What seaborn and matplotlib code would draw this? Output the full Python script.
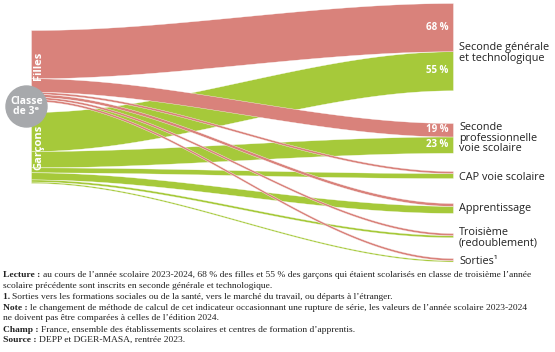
import numpy as np
import matplotlib.pyplot as plt
import seaborn as sns
from matplotlib.patches import Circle

sns.set_theme(style="white")
plt.rcParams['font.family'] = ['Open Sans', 'DejaVu Sans']

# Data (share of pupils from "classe de 3e", rentrée 2023, %)
targets = ["Seconde générale\net technologique",
           "Seconde\nprofessionnelle\nvoie scolaire",
           "CAP voie scolaire",
           "Apprentissage",
           "Troisième\n(redoublement)",
           "Sorties¹"]
filles = [68, 19, 3, 4, 3, 3]
garcons = [55, 23, 7, 10, 3, 2]
shown_pct = [True, True, False, False, False, False]

pink = "#d9827b"
green = "#a6c93a"
grey = "#a7a9ac"

# layout (pixel space)
W, H = 555, 352
scale = 0.71          # px per percentage point
x_left, x_right = 31, 453
src_tops = {"Filles": 30, "Garçons": 112}
tgt_tops = [3, 123, 171, 203, 233, 258]
label_y = [53, 138, 178, 209, 238, 262]

fig = plt.figure(figsize=(W / 100, H / 100), dpi=100)
ax = fig.add_axes([0, 0, 1, 1])
ax.set_xlim(0, W)
ax.set_ylim(H, 0)
ax.axis("off")


def flow(y0a, y0b, y1a, y1b, color):
    t = np.linspace(0, 1, 200)
    s = 3 * t ** 2 - 2 * t ** 3
    xs = x_left + t * (x_right - x_left)
    top = y0a + (y1a - y0a) * s
    bot = y0b + (y1b - y0b) * s
    ax.fill_between(xs, top, bot, color=color, lw=0.25, edgecolor="white", zorder=2)


# right-side offsets: filles on top of garçons inside each target
filles_right = [tgt_tops[i] for i in range(len(targets))]
garcons_right = [tgt_tops[i] + filles[i] * scale for i in range(len(targets))]

for name, vals, color, rights in [("Garçons", garcons, green, garcons_right),
                                  ("Filles", filles, pink, filles_right)]:
    y = src_tops[name]
    for i, v in enumerate(vals):
        h = v * scale
        flow(y, y + h, rights[i], rights[i] + h, color)
        y += h

# percentage labels
for i in range(len(targets)):
    if shown_pct[i]:
        for vals, rights in [(filles, filles_right), (garcons, garcons_right)]:
            yc = rights[i] + vals[i] * scale / 2
            ax.text(x_right - 5, yc, f"{vals[i]} %", color="white", fontsize=7,
                    fontweight="bold", ha="right", va="center", zorder=4)

# target labels
for lab, yc in zip(targets, label_y):
    ax.text(x_right + 6, yc, lab, fontsize=7.8, color="#222222", ha="left",
            va="center", linespacing=0.95, zorder=4)

# source labels
for name, vals in [("Filles", filles), ("Garçons", garcons)]:
    yc = src_tops[name] + sum(vals) * scale / 2
    ax.text(39, yc, name, rotation=90, color="white", fontsize=8,
            fontweight="bold", ha="center", va="center", zorder=4)

ax.add_patch(Circle((26.5, 106.5), 20.5, color=grey, zorder=5))
ax.text(26.5, 106.5, "Classe\nde 3ᵉ", color="white", fontsize=7.5, fontweight="bold",
        ha="center", va="center", linespacing=0.95, zorder=6)

# footnotes
notes = [
    [("Lecture : ", "bold"), ("au cours de l’année scolaire 2023-2024, 68 % des filles et 55 % des garçons qui étaient scolarisés en classe de troisième l’année", "normal")],
    [("scolaire précédente sont inscrits en seconde générale et technologique.", "normal")],
    [("1. ", "bold"), ("Sorties vers les formations sociales ou de la santé, vers le marché du travail, ou départs à l’étranger.", "normal")],
    [("Note : ", "bold"), ("le changement de méthode de calcul de cet indicateur occasionnant une rupture de série, les valeurs de l’année scolaire 2023-2024", "normal")],
    [("ne doivent pas être comparées à celles de l’édition 2024.", "normal")],
    [("Champ : ", "bold"), ("France, ensemble des établissements scolaires et centres de formation d’apprentis.", "normal")],
    [("Source : ", "bold"), ("DEPP et DGER-MASA, rentrée 2023.", "normal")],
]
note_y = [275, 285.5, 297, 308, 318.5, 329.5, 340]
renderer = fig.canvas.get_renderer()
for parts, yy in zip(notes, note_y):
    x = 3
    for txt, wt in parts:
        t = ax.text(x, yy, txt, fontsize=6.8, fontweight=wt, family="Liberation Serif",
                    color="#222222", ha="left", va="center")
        x += t.get_window_extent(renderer).width

fig.savefig("out.png", dpi=100)
